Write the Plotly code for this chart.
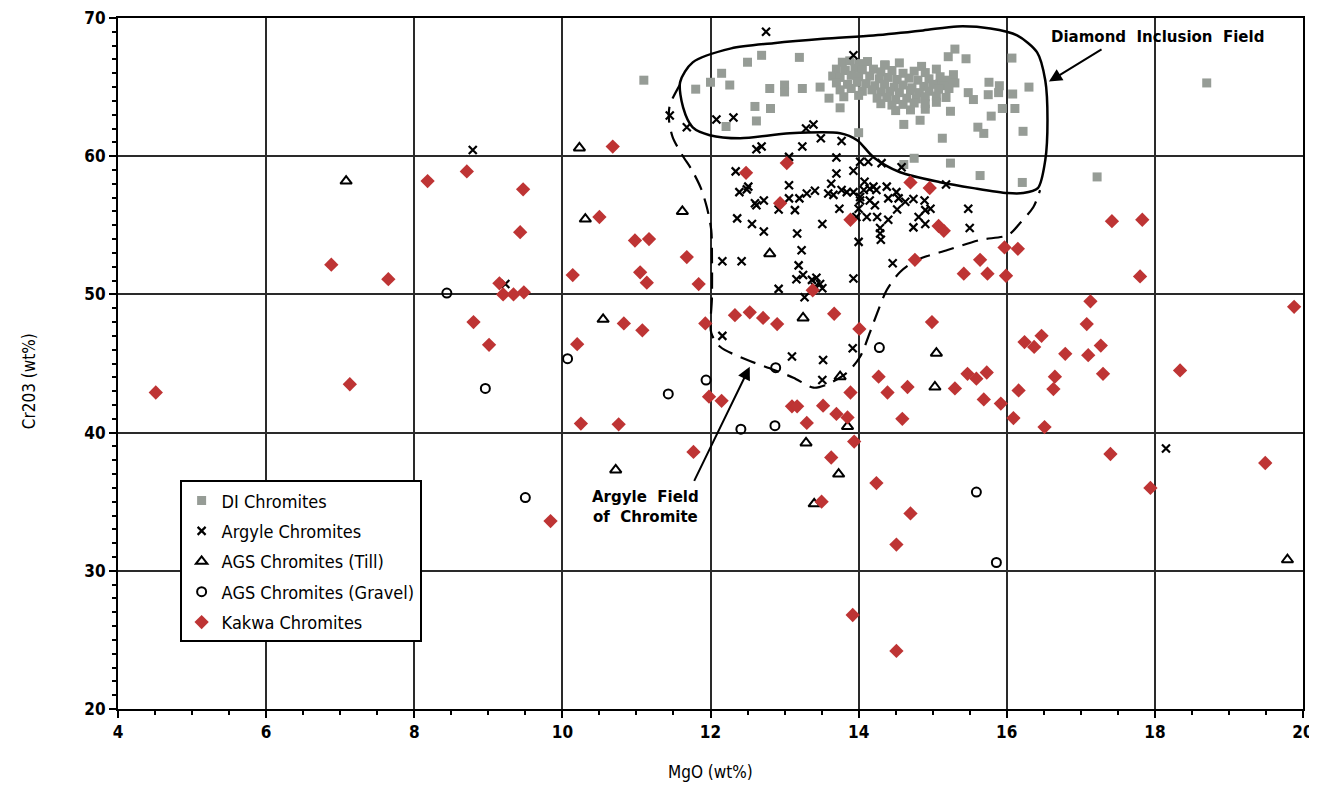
import plotly.graph_objects as go

# ---------------- data ----------------
di_x = [11.10, 11.80, 12.00, 12.15, 12.26, 12.50, 12.69, 12.60, 12.81, 12.62, 12.21, 12.80, 13.00, 13.00,
        13.24, 13.20, 13.48, 13.60, 13.75, 14.36, 15.30, 15.45, 15.21, 15.28, 15.10, 15.76, 15.90, 15.89,
        15.75, 15.48, 15.55, 16.07, 16.30, 16.08, 15.94, 16.11, 15.79, 15.61, 15.69, 16.22, 15.13, 14.61,
        15.24, 14.00, 14.75, 14.61, 15.24, 15.64, 16.21, 14.83, 17.22, 18.70,
        13.78, 13.88, 14.00, 14.12, 14.35, 14.55, 14.85,
        13.70, 13.82, 13.95, 14.05, 14.20, 14.30, 14.45, 14.60, 14.75, 14.90, 15.05,
        13.65, 13.75, 13.90, 14.00, 14.15, 14.28, 14.40, 14.52, 14.68, 14.80, 14.95, 15.10, 15.20,
        13.70, 13.85, 13.98, 14.10, 14.22, 14.35, 14.48, 14.60, 14.72, 14.88, 15.00, 15.15, 15.30,
        13.75, 13.90, 14.05, 14.18, 14.30, 14.42, 14.55, 14.70, 14.82, 14.95, 15.08, 15.22,
        13.80, 14.00, 14.25, 14.38, 14.50, 14.65, 14.78, 14.90, 15.05, 15.18,
        14.30, 14.45, 14.60, 14.75, 14.90, 15.05,
        14.50, 14.70, 14.90]
di_y = [65.5, 64.85, 65.35, 66.0, 65.15, 66.8, 67.3, 63.6, 63.45, 62.55, 62.15, 64.9, 65.15, 64.65,
        64.9, 67.15, 65.0, 64.2, 63.5, 66.6, 67.75, 67.05, 67.2, 65.9, 65.25, 65.35, 65.1, 64.6,
        64.45, 64.6, 64.1, 67.1, 65.0, 64.5, 63.45, 63.45, 62.9, 62.1, 61.65, 61.8, 61.3, 62.3,
        63.25, 61.7, 59.85, 59.4, 59.5, 58.6, 58.1, 62.6, 58.5, 65.3,
        66.8, 66.9, 66.7, 66.85, 66.6, 66.75, 66.5,
        66.3, 66.2, 66.35, 66.25, 66.3, 66.1, 66.2, 66.0, 66.15, 66.05, 66.3,
        65.8, 65.7, 65.85, 65.75, 65.8, 65.6, 65.7, 65.55, 65.65, 65.5, 65.6, 65.75, 65.5,
        65.3, 65.2, 65.35, 65.25, 65.1, 65.2, 65.0, 65.15, 64.95, 65.05, 65.2, 65.1, 65.3,
        64.8, 64.9, 64.7, 64.8, 64.65, 64.7, 64.6, 64.75, 64.6, 64.7, 64.85, 64.9,
        64.3, 64.4, 64.2, 64.25, 64.1, 64.2, 64.15, 64.3, 64.35, 64.25,
        63.8, 63.7, 63.75, 63.85, 63.8, 63.9,
        63.3, 63.35, 63.4]

argyle_x = [12.75, 13.93, 11.45, 11.68, 12.08, 12.31, 13.29, 13.39, 13.49, 13.77, 13.24, 12.62, 12.69,
            13.06, 13.70, 14.02, 14.13, 14.31, 14.58, 12.34, 13.70, 13.93, 15.18, 13.63, 14.08, 13.06,
            12.39, 12.49, 12.51, 12.60, 12.62, 12.72, 13.06, 13.20, 13.30, 13.41, 12.92, 13.14, 13.59,
            13.66, 13.77, 13.84, 13.93, 14.02, 14.02, 14.07, 14.15, 14.20, 14.24, 14.15, 14.22, 14.38,
            14.40, 14.51, 14.54, 14.63, 14.74, 14.89, 14.90, 14.97, 14.81, 14.90, 14.74, 14.52, 14.40,
            14.25, 14.29, 14.29, 14.30, 14.11, 14.00, 13.97, 13.74, 14.00, 15.48, 15.50, 13.51, 13.17,
            13.23, 13.19, 13.25, 13.16, 13.37, 13.43, 13.48, 13.41, 13.51, 12.92, 13.27, 13.93, 14.46,
            12.36, 12.56, 12.72, 12.16, 12.42, 12.16, 13.10, 13.52, 13.92, 13.51, 18.15, 8.79, 9.23]
argyle_y = [69.0, 67.3, 62.95, 62.1, 62.65, 62.8, 62.0, 62.3, 61.3, 61.1, 60.7, 60.5, 60.7,
            59.95, 59.9, 59.6, 59.6, 59.5, 59.2, 58.9, 58.75, 58.95, 57.95, 58.0, 58.15, 57.9,
            57.4, 57.6, 57.8, 56.6, 56.45, 56.8, 56.95, 56.95, 57.3, 57.5, 56.15, 56.1, 57.3,
            57.2, 57.55, 57.4, 57.4, 57.05, 56.8, 57.55, 57.65, 57.8, 57.55, 56.8, 56.45, 57.8,
            56.95, 57.4, 56.95, 56.7, 56.9, 56.8, 56.1, 56.2, 55.6, 55.1, 54.85, 56.15, 55.4,
            55.6, 54.8, 54.4, 53.95, 55.6, 56.2, 55.6, 56.2, 53.8, 56.2, 54.8, 55.1, 54.4,
            53.2, 52.1, 51.4, 51.1, 51.05, 51.2, 50.75, 50.55, 50.45, 50.4, 49.8, 51.15, 52.25,
            55.5, 55.1, 54.55, 52.4, 52.4, 47.0, 45.5, 45.25, 46.1, 43.8, 38.85, 60.45, 50.75]

till_x = [7.08, 10.23, 10.31, 11.62, 12.80, 10.55, 13.25, 13.75, 13.85, 10.72, 13.29, 13.73, 13.40,
          15.05, 15.03, 19.79]
till_y = [58.2, 60.6, 55.45, 56.0, 52.95, 48.2, 48.3, 44.05, 40.45, 37.3, 39.25, 37.0, 34.85,
          45.75, 43.3, 30.8]

gravel_x = [8.44, 8.96, 10.07, 11.94, 11.43, 12.88, 14.28, 12.41, 12.87, 9.50, 15.59, 15.86]
gravel_y = [50.1, 43.2, 45.35, 43.8, 42.8, 44.7, 46.15, 40.25, 40.5, 35.3, 35.7, 30.6]

kakwa_x = [4.51, 6.88, 7.13, 7.65, 8.18, 8.71, 9.47, 9.43, 9.15, 9.20, 9.34, 9.48, 8.80, 9.01, 9.84,
           10.68, 10.50, 10.98, 11.17, 11.68, 10.14, 11.05, 11.14, 11.84, 10.83, 11.08, 10.20, 11.93,
           12.33, 12.53, 12.71, 12.90, 13.67, 14.01, 14.27, 13.89, 14.39, 11.98, 12.15, 13.10, 13.17,
           13.52, 13.70, 13.85, 13.30, 10.25, 10.76, 13.03, 12.48, 12.94, 13.89, 13.38, 14.70, 14.96,
           15.08, 15.15, 14.76, 15.97, 16.15, 15.64, 15.42, 15.74, 15.99, 17.42, 17.83, 17.80, 19.88,
           17.13, 17.08, 14.99, 16.47, 16.24, 16.37, 17.27, 16.79, 17.10, 18.34, 17.30, 16.65, 15.47,
           15.59, 15.73, 14.66, 15.30, 16.16, 16.63, 15.69, 15.92, 14.59, 16.09, 16.51, 17.40, 17.94,
           19.49, 14.70, 14.51, 14.51, 11.77, 13.94, 13.63, 14.24, 13.50, 13.92]
kakwa_y = [42.9, 52.15, 43.5, 51.1, 58.2, 58.9, 57.6, 54.5, 50.8, 50.0, 50.0, 50.15, 48.0, 46.35, 33.6,
           60.7, 55.6, 53.9, 54.0, 52.7, 51.4, 51.6, 50.85, 50.75, 47.9, 47.4, 46.4, 47.9,
           48.5, 48.7, 48.3, 47.85, 48.6, 47.5, 44.05, 42.9, 42.9, 42.6, 42.3, 41.9, 41.9,
           41.95, 41.35, 41.1, 40.7, 40.65, 40.6, 59.5, 58.8, 56.6, 55.4, 50.3, 58.1, 57.7,
           54.95, 54.6, 52.5, 53.4, 53.3, 52.5, 51.5, 51.5, 51.35, 55.3, 55.4, 51.3, 49.1,
           49.5, 47.85, 48.0, 47.0, 46.55, 46.2, 46.3, 45.7, 45.6, 44.5, 44.25, 44.05, 44.25,
           43.9, 44.35, 43.3, 43.2, 43.05, 43.15, 42.4, 42.1, 41.0, 41.05, 40.4, 38.45, 36.0,
           37.8, 34.15, 31.9, 24.2, 38.6, 39.35, 38.2, 36.35, 35.0, 26.8]

# field outlines (hand-drawn curves on the original figure)
di_field_x = [11.59, 11.76, 12.28, 12.85, 13.52, 14.20, 14.87, 15.33, 15.78, 16.14, 16.41, 16.52, 16.55,
              16.52, 16.42, 16.22, 16.01, 15.55, 15.10, 14.56, 14.20, 13.98, 13.75, 13.07, 12.40, 11.99,
              11.76, 11.63, 11.59]
di_field_y = [65.36, 66.79, 67.80, 68.18, 68.50, 68.74, 69.10, 69.39, 69.24, 68.74, 67.51, 65.49, 62.60,
              59.71, 57.69, 57.33, 57.33, 57.69, 58.12, 58.84, 59.93, 61.16, 61.66, 61.66, 61.30, 61.52,
              62.09, 63.54, 65.36]
argyle_field_x = [11.59, 11.45, 11.44, 11.49, 11.62, 11.75, 11.87, 11.95, 12.01, 12.02, 12.02, 12.01, 12.13,
                  12.49, 12.85, 13.12, 13.39, 13.57, 13.84, 14.02, 14.20, 14.38, 14.56, 14.79, 15.20, 15.64,
                  16.02, 16.18, 16.36, 16.45]
argyle_field_y = [65.20, 63.68, 62.60, 61.37, 60.07, 58.99, 57.69, 56.32, 54.66, 52.49, 49.82, 47.22, 46.21,
                  45.27, 44.55, 43.97, 43.25, 43.47, 44.33, 45.49, 47.94, 50.32, 51.62, 52.49, 53.21, 53.94,
                  54.30, 55.16, 56.32, 57.55]

x_ticks = [4, 6, 8, 10, 12, 14, 16, 18, 20]
y_ticks = [20, 30, 40, 50, 60, 70]

# ---------------- figure ----------------
FONT = "Liberation Sans Narrow, DejaVu Sans Condensed, Liberation Sans, Arial"
fig = go.Figure()

fig.add_trace(go.Scatter(x=di_field_x, y=di_field_y, mode="lines", showlegend=False, hoverinfo="skip",
                         line=dict(color="black", width=2.5, shape="spline", smoothing=0.8)))
fig.add_trace(go.Scatter(x=argyle_field_x, y=argyle_field_y, mode="lines", showlegend=False, hoverinfo="skip",
                         line=dict(color="black", width=2.2, dash="16px,9px", shape="spline", smoothing=0.8)))

fig.add_trace(go.Scatter(x=di_x, y=di_y, mode="markers", name="DI Chromites", legendgroup="g1",
                         marker=dict(symbol="square", size=9, color="rgb(150,156,150)",
                                     line=dict(width=0))))
fig.add_trace(go.Scatter(x=argyle_x, y=argyle_y, mode="markers", name="Argyle Chromites", legendgroup="g2",
                         marker=dict(symbol="x-thin-open", size=8, color="black",
                                     line=dict(width=2.2, color="black"))))
fig.add_trace(go.Scatter(x=till_x, y=till_y, mode="markers", name="AGS Chromites (Till)", legendgroup="g3",
                         marker=dict(symbol="triangle-up-open", size=10, color="black",
                                     line=dict(width=2, color="black"))))
fig.add_trace(go.Scatter(x=gravel_x, y=gravel_y, mode="markers", name="AGS Chromites (Gravel)",
                         legendgroup="g4",
                         marker=dict(symbol="circle-open", size=9, color="black",
                                     line=dict(width=2, color="black"))))
fig.add_trace(go.Scatter(x=kakwa_x, y=kakwa_y, mode="markers", name="Kakwa Chromites", legendgroup="g5",
                         marker=dict(symbol="diamond", size=11, color="rgb(190,52,52)",
                                     line=dict(width=0))))

axis_common = dict(showline=True, linecolor="black", linewidth=2, mirror=True, automargin=False,
                   ticklabeloverflow="allow",
                   showgrid=True, gridcolor="#2a2a2a", gridwidth=1.5, zeroline=False,
                   ticks="outside", tickcolor="black", ticklen=7, tickwidth=2,
                   tickfont=dict(family=FONT, size=17, color="black", weight="bold"))

fig.update_xaxes(range=[4, 20], tickvals=x_ticks, ticktext=[str(v) for v in x_ticks],
                 minor=dict(dtick=0.5, ticks="outside", ticklen=4, tickcolor="black", showgrid=False),
                 **axis_common)
fig.update_yaxes(range=[20, 70], tickvals=y_ticks, ticktext=[str(v) for v in y_ticks],
                 minor=dict(dtick=1, ticks="outside", ticklen=4, tickcolor="black", showgrid=False),
                 **axis_common)

ann_font = dict(family="DejaVu Sans, Arial", size=15, color="black", weight="bold")
annotations = [
    dict(x=-0.0745, y=0.474, xref="paper", yref="paper", text="Cr203 (wt%)", textangle=-90,
         xanchor="center", yanchor="middle",
         showarrow=False, font=dict(family=FONT, size=17, color="black")),
    dict(x=0.5, y=-0.0912, xref="paper", yref="paper", text="MgO (wt%)",
         xanchor="center", yanchor="middle",
         showarrow=False, font=dict(family=FONT, size=17, color="black")),
    dict(x=18.04, y=68.6, xref="x", yref="y", text="Diamond  Inclusion  Field",
         showarrow=False, font=ann_font),
    dict(x=11.12, y=34.6, xref="x", yref="y", text="Argyle  Field<br>of  Chromite",
         showarrow=False, font=ann_font),
    dict(x=16.57, y=65.4, xref="x", yref="y", ax=17.30, ay=67.8, axref="x", ayref="y",
         text="", showarrow=True, arrowhead=2, arrowsize=1.3, arrowwidth=2, arrowcolor="black"),
    dict(x=12.53, y=44.77, xref="x", yref="y", ax=11.77, ay=36.4, axref="x", ayref="y",
         text="", showarrow=True, arrowhead=2, arrowsize=1.3, arrowwidth=2, arrowcolor="black"),
]

# the page body adds an 8px offset, so the figure is sized to fit the 1317x790 window
fig.update_layout(
    width=1309, height=782,
    margin=dict(l=110, r=14, t=10, b=81),
    paper_bgcolor="white", plot_bgcolor="white",
    annotations=annotations,
    legend=dict(x=0.052, y=0.331, xanchor="left", yanchor="top",
                bgcolor="white", bordercolor="black", borderwidth=2,
                font=dict(family=FONT, size=18, color="black"),
                itemwidth=30, tracegroupgap=4),
)

fig.write_html("out.html")
